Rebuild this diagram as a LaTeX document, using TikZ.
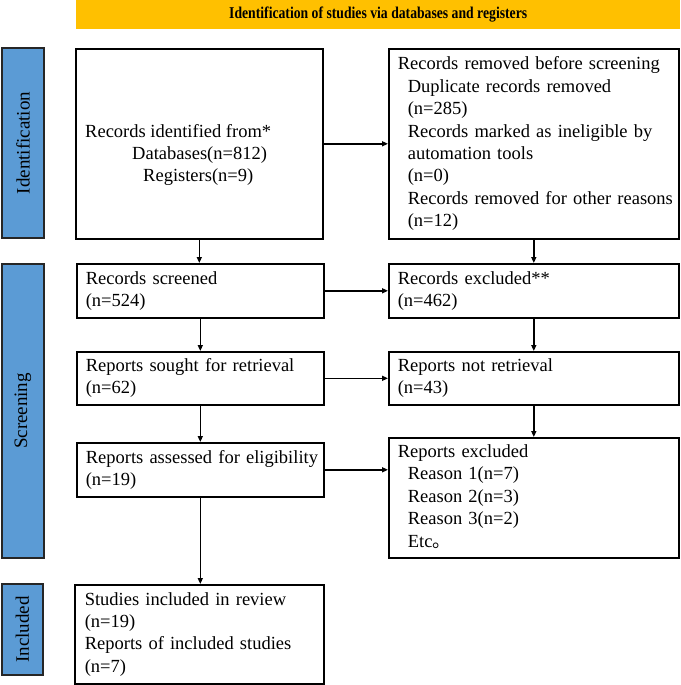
\documentclass[tikz,border=0pt]{standalone}
\usepackage{fontspec}
\setmainfont{Liberation Serif}
\newfontfamily\bannerfont[FakeStretch=0.83]{Liberation Serif}
\newfontfamily\cjkfont{Noto Sans CJK SC}
\usetikzlibrary{arrows.meta}
\definecolor{bannerY}{HTML}{FFC000}
\definecolor{phaseB}{HTML}{5B9BD5}
\newcommand{\boxlines}[1]{\begin{tabular}{@{}l@{}}#1\end{tabular}}
\begin{document}
\begin{tikzpicture}[x=1pt,y=-1pt,
  box/.style={draw=black, line width=1.6pt, rectangle, anchor=north west, inner xsep=9pt, inner ysep=0pt, align=left, font=\fontsize{18.5}{22.4}\selectfont},
  lbox/.style={box, minimum width=247pt, text width=229pt},
  rbox/.style={box, minimum width=290pt, text width=272pt},
  phase/.style={draw=black!85, line width=1.1pt, fill=phaseB, rotate=90, anchor=center, inner sep=0pt, font=\fontsize{19}{22}\selectfont},
  arr/.style={-{Triangle[length=6pt,width=5pt]}, line width=1.6pt}]
\useasboundingbox (0,0) rectangle (680,685);

\node[fill=bannerY, minimum width=604pt, minimum height=29pt, anchor=north west, inner sep=0pt] (banner) at (76,0)
  {\bannerfont\bfseries\fontsize{16.5}{18}\selectfont Identification of studies via databases and registers};

\node[phase, minimum width=190pt, minimum height=42pt] (p1) at (23,143) {Identification};
\node[phase, minimum width=294pt, minimum height=42pt] (p2) at (23,411) {Screening};
\node[phase, minimum width=91pt, minimum height=41pt] (p3) at (22.5,629.5) {Included};

\node[lbox, minimum height=190pt] (b1) at (75,48) {};
\node[anchor=west, inner sep=0pt, align=left, font=\fontsize{18.5}{22}\selectfont] (b1t) at (85,155)
  {\boxlines{Records identified from*\\\hspace*{47pt}Databases(n=812)\\\hspace*{58pt}Registers(n=9)}};

\node[rbox, minimum height=190pt] (b2) at (388,48)
  {\boxlines{Records removed before screening\\
   \hspace*{10pt}Duplicate records removed\\
   \hspace*{10pt}(n=285)\\
   \hspace*{10pt}Records marked as ineligible by\\
   \hspace*{10pt}automation tools\\
   \hspace*{10pt}(n=0)\\
   \hspace*{10pt}Records removed for other reasons\\
   \hspace*{10pt}(n=12)}};

\node[lbox, minimum height=54pt] (b3) at (76,263) {\boxlines{Records screened\\(n=524)}};
\node[rbox, minimum height=54pt] (b4) at (388,263) {\boxlines{Records excluded**\\(n=462)}};
\node[lbox, minimum height=53pt] (b5) at (76,351) {\boxlines{Reports sought for retrieval\\(n=62)}};
\node[rbox, minimum height=53pt] (b6) at (388,351) {\boxlines{Reports not retrieval\\(n=43)}};
\node[lbox, minimum height=54pt] (b7) at (76,442) {\boxlines{Reports assessed for eligibility\\(n=19)}};
\node[rbox, minimum height=120pt] (b8) at (388,437)
  {\boxlines{Reports excluded\\
   \hspace*{10pt}Reason 1(n=7)\\
   \hspace*{10pt}Reason 2(n=3)\\
   \hspace*{10pt}Reason 3(n=2)\\
   \hspace*{10pt}Etc{\cjkfont 。}}};
\node[lbox, minimum width=249pt, minimum height=99pt] (b9) at (74,584)
  {\boxlines{Studies included in review\\(n=19)\\Reports of included studies\\(n=7)}};

\draw[arr] (b1.east) -- (b1.east -| b2.west);
\draw[arr] (b3.east) -- (b3.east -| b4.west);
\draw[arr] (b5.east) -- (b5.east -| b6.west);
\draw[arr] (b7.east) -- (b7.east -| b8.west);

\draw[arr] (b1.south) -- (b1.south |- b3.north);
\draw[arr] (b3.south) -- (b3.south |- b5.north);
\draw[arr] (b5.south) -- (b5.south |- b7.north);
\draw[arr] (b7.south) -- (b7.south |- b9.north);
\draw[arr] (b2.south) -- (b2.south |- b4.north);
\draw[arr] (b4.south) -- (b4.south |- b6.north);
\draw[arr] (b6.south) -- (b6.south |- b8.north);
\end{tikzpicture}
\end{document}
